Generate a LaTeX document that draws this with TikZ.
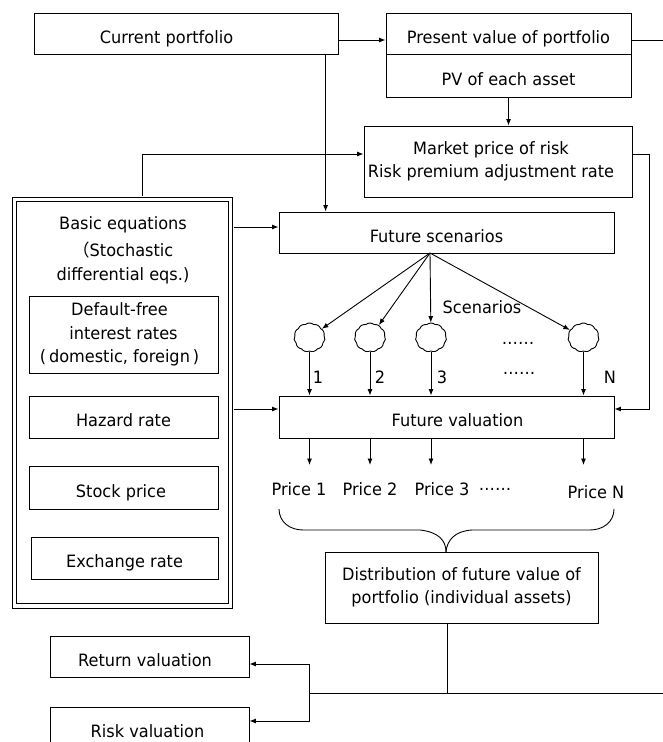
\documentclass[tikz,border=0pt]{standalone}
\usepackage{fontspec}
\setmainfont{DejaVu Sans}[FakeStretch=0.95]
\newfontfamily\cjk{Noto Sans CJK JP}
\usetikzlibrary{arrows.meta,shapes.symbols}
\begin{document}
\begin{tikzpicture}[x=1pt,y=-1pt,
  font=\fontsize{17}{23.5}\selectfont, line width=0.9pt,
  box/.style={draw, rectangle, inner sep=0pt, align=center},
  one/.style={text height=19pt, text depth=0pt},
  arr/.style={-{Latex[length=6.5pt,width=5pt]}},
  scen/.style={draw, cloud, cloud puffs=11, cloud puff arc=80, minimum width=31pt, minimum height=29pt, inner sep=0pt},
  lbl/.style={inner sep=0pt}]
\useasboundingbox (0,0) rectangle (663,742);
\clip (0,0) rectangle (663,742);

% boxes
\node[box, one, minimum width=304pt, minimum height=41pt] (cp) at (186,33.5) {Current portfolio\hspace*{39pt}};
\node[box, one, minimum width=245pt, minimum height=41pt] (pv) at (508.5,33.5) {Present value of portfolio};
\node[box, one, minimum width=245pt, minimum height=43pt] (pva) at (508.5,75.5) {PV of each asset};
\node[box, minimum width=268pt, minimum height=71pt] (mp) at (498,161.5) {Market price of risk\hspace*{14pt}\\Risk premium adjustment rate\hspace*{14pt}};
\node[box, one, minimum width=335pt, minimum height=41pt] (fs) at (446.5,232.5) {Future scenarios\hspace*{20pt}};
\node[draw, double, double distance=3.5pt, minimum width=216pt, minimum height=406.5pt, inner sep=0pt] (basic) at (122.5,402.75) {};
\node[lbl, align=center] (bt) at (123,250) {Basic equations\\[4pt]{\cjk （}Stochastic\\differential eqs.)};
\node[box, minimum width=189pt, minimum height=77pt] (df) at (123.5,334.5) {Default-free\hspace*{8pt}\\interest rates\hspace*{8pt}\\(\,domestic, foreign\,)\hspace*{8pt}};
\node[box, one, minimum width=189pt, minimum height=42pt] (hz) at (123.5,417) {Hazard rate};
\node[box, one, minimum width=189pt, minimum height=43pt] (st) at (123.5,487.5) {Stock price\hspace*{5pt}};
\node[box, one, minimum width=187pt, minimum height=42pt] (ex) at (124.5,558) {Exchange rate};
\node[box, one, minimum width=335pt, minimum height=42pt] (fv) at (446.5,417) {\hspace*{22pt}Future valuation};
\node[box, minimum width=273pt, minimum height=71pt] (dist) at (461.5,587.5) {Distribution of future value of\\portfolio (individual assets)};
\node[box, one, minimum width=199pt, minimum height=41pt] (ret) at (149.5,656.5) {Return valuation\hspace*{9pt}};
\node[box, one, minimum width=199pt, minimum height=41pt] (risk) at (149.5,727.5) {Risk valuation\hspace*{4pt}};

% scenarios
\node[scen] (s1) at (309.5,337.5) {};
\node[scen] (s2) at (370,337.5) {};
\node[scen] (s3) at (431,337.5) {};
\node[scen] (sN) at (583.5,337.5) {};
\coordinate (o) at (430,253);
\foreach \s in {s1,s2,s3,sN} \draw[arr] (o) -- (\s);
\foreach \s in {s1,s2,s3,sN} \draw[arr] (\s.south) -- (\s.south |- fv.north);
\node[lbl] (scl) at (482,307) {Scenarios};
\node[lbl] (d1a) at (518,343) {……};
\node[lbl] (d1b) at (519,373) {……};
\node[lbl] (n1) at (318,377) {1};
\node[lbl] (n2) at (380,377) {2};
\node[lbl] (n3) at (442,377) {3};
\node[lbl] (nN) at (610,377) {N};

% prices
\coordinate (p1) at (309.5,465);
\coordinate (p2) at (370,465);
\coordinate (p3) at (431,465);
\coordinate (pN) at (583.5,465);
\foreach \p in {p1,p2,p3,pN} \draw[arr] (\p |- fv.south) -- (\p);
\node[lbl] (pr1) at (299,489) {Price 1};
\node[lbl] (pr2) at (370,489) {Price 2};
\node[lbl] (pr3) at (442,489) {Price 3};
\node[lbl] (prd) at (495,489) {……};
\node[lbl] (prN) at (596,492) {Price N};

% brace
\draw (279,509) .. controls (279,522) and (290,530) .. (303,530) -- (420,530) .. controls (438,532) and (446,540) .. (446,552);
\draw (614,509) .. controls (614,522) and (603,530) .. (590,530) -- (472,530) .. controls (455,531) and (447,540) .. (446,552);

% top connectors
\coordinate (a0) at (0,40);
\coordinate (e0) at (663,40);
\draw[arr] (cp.east |- a0) -- (pv.west |- a0);
\draw (pv.east |- a0) -- (e0);
\coordinate (v1) at (325.6,0);
\draw[arr] (cp.south -| v1) -- (fs.north -| v1);
\draw[arr] (pva.south) -- (mp.north -| pva.south);
\coordinate (r1) at (649,154);
\coordinate (r2) at (649,409);
\draw[arr] (mp.east |- r1) -- (r1) -- (r2) -- (fv.east |- r2);
\coordinate (b1) at (142,154);
\draw[arr] ([yshift=2.6pt]b1 |- basic.north) -- (b1) -- (mp.west |- b1);
\coordinate (a1) at (0,227);
\coordinate (a2) at (0,409);
\draw[arr] ([xshift=2.6pt]basic.east |- a1) -- (fs.west |- a1);
\draw[arr] ([xshift=2.6pt]basic.east |- a2) -- (fv.west |- a2);

% bottom connectors
\coordinate (dd) at (447,693);
\draw (dist.south -| dd) -- (dd);
\coordinate (h1) at (309.5,693);
\coordinate (h2) at (663,693);
\draw (h1) -- (h2);
\coordinate (j1) at (309.5,664);
\coordinate (j2) at (309.5,721);
\draw (j1) -- (j2);
\draw[arr] (j1) -- (ret.east |- j1);
\draw[arr] (j2) -- (risk.east |- j2);
\end{tikzpicture}
\end{document}
